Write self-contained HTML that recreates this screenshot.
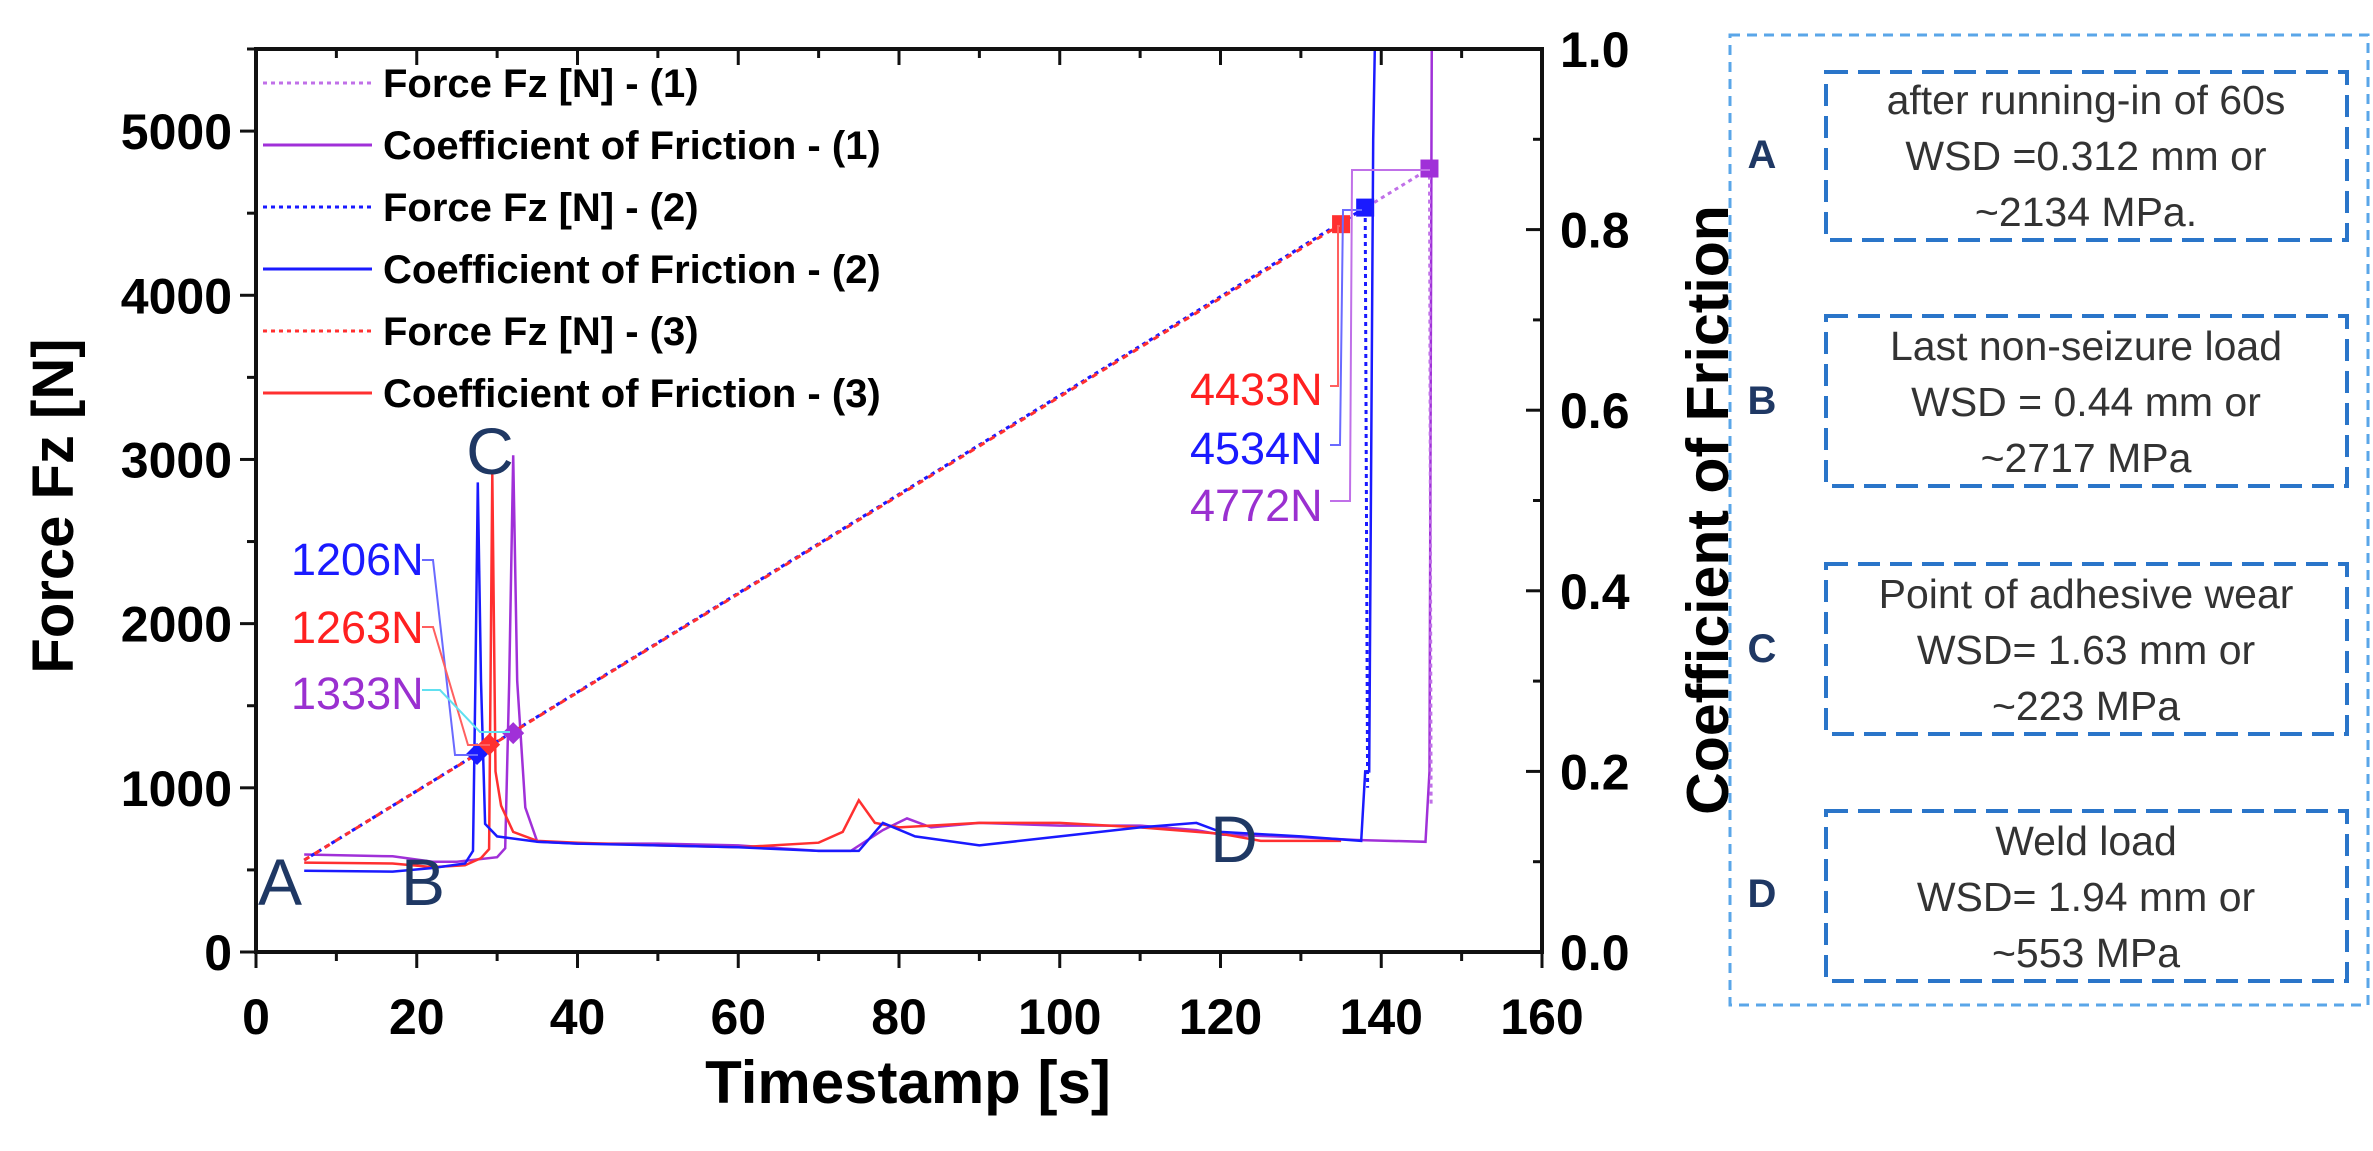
<!DOCTYPE html>
<html><head><meta charset="utf-8"><style>
body{margin:0;background:#fff;}
svg text{font-family:"Liberation Sans",sans-serif;}
</style></head><body>
<svg width="2373" height="1146" viewBox="0 0 2373 1146" xmlns="http://www.w3.org/2000/svg">
<g id="plot"></g>
<g id="annot"></g>
<g>
<rect x="1730" y="35" width="638" height="970" fill="none" stroke="#5aa6e8" stroke-width="3" stroke-dasharray="10,7"/>
<g font-size="41" fill="#333" text-anchor="middle">
<rect x="1826" y="72" width="521" height="168" fill="none" stroke="#2a75c9" stroke-width="4" stroke-dasharray="22,10"/>
<text x="2086" y="114">after running-in  of 60s</text>
<text x="2086" y="170">WSD =0.312 mm or</text>
<text x="2086" y="226">~2134 MPa.</text>
<rect x="1826" y="316" width="521" height="170" fill="none" stroke="#2a75c9" stroke-width="4" stroke-dasharray="22,10"/>
<text x="2086" y="360">Last non-seizure load</text>
<text x="2086" y="416">WSD = 0.44 mm or</text>
<text x="2086" y="472">~2717 MPa</text>
<rect x="1826" y="564" width="521" height="170" fill="none" stroke="#2a75c9" stroke-width="4" stroke-dasharray="22,10"/>
<text x="2086" y="608">Point of adhesive wear</text>
<text x="2086" y="664">WSD= 1.63 mm or</text>
<text x="2086" y="720">~223 MPa</text>
<rect x="1826" y="811" width="521" height="170" fill="none" stroke="#2a75c9" stroke-width="4" stroke-dasharray="22,10"/>
<text x="2086" y="855">Weld load</text>
<text x="2086" y="911">WSD= 1.94 mm or</text>
<text x="2086" y="967">~553 MPa</text>
</g>
<g font-size="40" font-weight="bold" fill="#1f3864" text-anchor="middle">
<text x="1762" y="168">A</text>
<text x="1762" y="414">B</text>
<text x="1762" y="662">C</text>
<text x="1762" y="907">D</text>
</g>
</g>
</svg>
<script>
const xTicks=[0,20,40,60,80,100,120,140,160];
const yTicks=[0,1000,2000,3000,4000,5000];
const y2Ticks=[0.0,0.2,0.4,0.6,0.8,1.0];
const forceT1=[6,146,146.2];const forceV1=[560,4772,900];
const forceT2=[6,138,138.3];const forceV2=[560,4534,1000];
const forceT3=[6,135];const forceV3=[560,4433];
const cofT1=[6,17,22,25,30,31,31.5,32,32.5,33.5,35,40,50,60,70,74,78,81,84,90,100,110,117,120,130,137,145.5,146,146.3];
const cofV1=[0.108,0.106,0.1,0.1,0.105,0.115,0.3,0.55,0.3,0.16,0.122,0.12,0.12,0.118,0.112,0.112,0.135,0.148,0.138,0.143,0.14,0.14,0.135,0.13,0.127,0.124,0.122,0.2,1.05];
const cofT2=[6,17,22,26,27,27.3,27.6,28,28.5,30,35,40,50,60,70,75,78,82,90,100,110,117,120,130,137.5,138,138.5,139,139.3];
const cofV2=[0.09,0.089,0.093,0.098,0.112,0.3,0.52,0.3,0.142,0.128,0.122,0.12,0.118,0.116,0.112,0.112,0.143,0.128,0.118,0.128,0.138,0.143,0.133,0.128,0.123,0.2,0.2,0.9,1.05];
const cofT3=[6,17,22,26,28,29,29.4,29.8,30.5,32,35,40,50,60,70,73,75,77,80,90,100,110,120,125,130,133,134,135];
const cofV3=[0.099,0.098,0.094,0.096,0.104,0.114,0.53,0.2,0.162,0.133,0.123,0.121,0.118,0.116,0.121,0.133,0.168,0.143,0.138,0.143,0.143,0.138,0.131,0.123,0.123,0.123,0.123,0.123];
const mkT=[27.5,29,32];const mkV=[1206,1263,1333];
const sqT=[135,138,146];const sqV=[4433,4534,4772];
const legendNames=["Force Fz [N] - (1)","Coefficient of Friction - (1)","Force Fz [N] - (2)","Coefficient of Friction - (2)","Force Fz [N] - (3)","Coefficient of Friction - (3)"];

const L=256,R=1542,T=49,B=952;
const X=t=>L+(t/160)*(R-L);
const Y=v=>B-(v/5500)*(B-T);
const Y2=v=>B-v*(B-T);
const NS="http://www.w3.org/2000/svg";
const plot=document.getElementById('plot');
function mk(tag,attrs,parent){const e=document.createElementNS(NS,tag);for(const k in attrs)e.setAttribute(k,attrs[k]);(parent||plot).appendChild(e);return e;}
const clip=mk('clipPath',{id:'cp'});mk('rect',{x:L,y:T,width:R-L,height:B-T},clip);
const cols={p:'#a030d8',pl:'#c070e8',b:'#1a1aff',r:'#ff3030'};
function line(ts,vs,fy,col,dash,name,w){
 const pts=ts.map((t,i)=>X(t).toFixed(1)+','+fy(vs[i]).toFixed(1)).join(' ');
 const e=mk('polyline',{points:pts,fill:'none',stroke:col,'stroke-width':w||2.5,'clip-path':'url(#cp)'});
 if(dash)e.setAttribute('stroke-dasharray',dash);
 
 
}
line(cofT1,cofV1,Y2,cols.p,null,'cof-series-1');
line(cofT3,cofV3,Y2,cols.r,null,'cof-series-3');
line(cofT2,cofV2,Y2,cols.b,null,'cof-series-2');
line(forceT1,forceV1,Y,cols.pl,'4,4','force-series-1',3);
line(forceT2,forceV2,Y,cols.b,'4,4','force-series-2',3);
line(forceT3,forceV3,Y,cols.r,'6,6','force-series-3',3);
const mcol=[cols.b,cols.r,cols.p];
mkT.forEach((t,i)=>{const x=X(t),y=Y(mkV[i]);const e=mk('polygon',{points:`${x},${y-11} ${x+11},${y} ${x},${y+11} ${x-11},${y}`,fill:mcol[i]});
 
 });
const scol=[cols.r,cols.b,cols.p];
sqT.forEach((t,i)=>{const x=X(t),y=Y(sqV[i]);const e=mk('rect',{x:x-9,y:y-9,width:18,height:18,fill:scol[i]});
 
 });
mk('rect',{x:L,y:T,width:R-L,height:B-T,fill:'none',stroke:'#111','stroke-width':4});
const tk=mk('g',{stroke:'#111','stroke-width':3});
for(let t=0;t<=160;t+=10){const x=X(t),big=t%20==0;mk('line',{x1:x,y1:B,x2:x,y2:B+(big?16:9)},tk);mk('line',{x1:x,y1:T,x2:x,y2:T+(big?16:9)},tk);}
for(let v=0;v<=5500;v+=500){const y=Y(v),big=v%1000==0;mk('line',{x1:L,y1:y,x2:L-(big?16:9),y2:y},tk);}
for(let v=0;v<=1.0001;v+=0.1){const y=Y2(v),big=Math.round(v*10)%2==0;mk('line',{x1:R,y1:y,x2:R-(big?16:9),y2:y},tk);}
xTicks.forEach(t=>{const e=mk('text',{x:X(t),y:1034,'font-size':50,'font-weight':'bold','text-anchor':'middle'});e.textContent=t;
 
 });
yTicks.forEach(v=>{const e=mk('text',{x:232,y:Y(v)+18,'font-size':50,'font-weight':'bold','text-anchor':'end'});e.textContent=v;
 
 });
y2Ticks.forEach(v=>{const e=mk('text',{x:1560,y:Y2(v)+18,'font-size':50,'font-weight':'bold'});e.textContent=v.toFixed(1);
 
 });
let e=mk('text',{x:908,y:1103,'font-size':60,'font-weight':'bold','text-anchor':'middle'});e.textContent='Timestamp [s]';


e=mk('text',{x:0,y:0,'font-size':58,'font-weight':'bold','text-anchor':'middle',transform:'translate(73,506) rotate(-90)'});e.textContent='Force Fz [N]';


e=mk('text',{x:0,y:0,'font-size':59,'font-weight':'bold','text-anchor':'middle',transform:'translate(1728,510) rotate(-90)'});e.textContent='Coefficient of Friction';


const lcol=[cols.pl,cols.p,cols.b,cols.b,cols.r,cols.r];
legendNames.forEach((n,i)=>{const y=83+i*62;const g=mk('g',{});
 
 
 const l=mk('line',{x1:263,y1:y,x2:372,y2:y,stroke:lcol[i],'stroke-width':3},g);if(i%2==0)l.setAttribute('stroke-dasharray','4,4');
 const t=mk('text',{x:383,y:y+14,'font-size':40,'font-weight':'bold'},g);t.textContent=n;});
const an=document.getElementById('annot');
function lead(pts,col){mk('polyline',{points:pts,fill:'none',stroke:col,'stroke-width':2},an);}
lead('422,560 433,560 455,755 478,755','#6a6aff');
lead('422,627 433,627 468,745 490,745','#ff6060');
lead('422,690 440,690 480,732 510,732','#60e0f0');
lead('1330,386 1338,386 1338,226 1340,226','#ff6060');
lead('1330,445 1340,445 1343,210 1362,210','#6a6aff');
lead('1330,501 1350,501 1352,170 1430,170','#c070e8');
const labs=[['1206N',291,575,'#1a1aff'],['1263N',291,643,'#ff2020'],['1333N',291,709,'#9a30d0'],['4433N',1190,405,'#ff2020'],['4534N',1190,464,'#1a1aff'],['4772N',1190,521,'#9a30d0']];
labs.forEach(a=>{const t=mk('text',{x:a[1],y:a[2],'font-size':45,fill:a[3]},an);t.textContent=a[0];
 
 });
const lets=[['A',280,905],['B',423,905],['C',490,474],['D',1234,862]];
lets.forEach(a=>{const t=mk('text',{x:a[1],y:a[2],'font-size':66,fill:'#1f3864','text-anchor':'middle'},an);t.textContent=a[0];
 
 });
</script>
</body></html>
